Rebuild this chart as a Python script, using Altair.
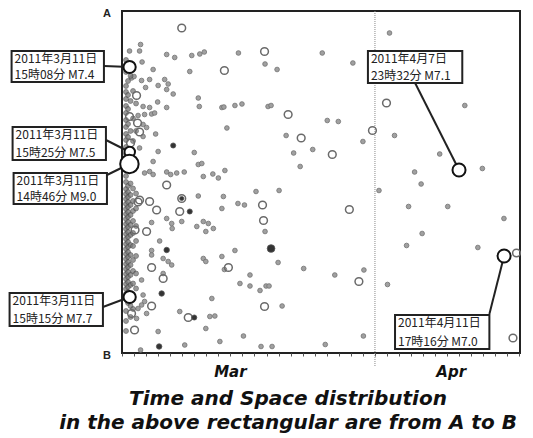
import altair as alt
import pandas as pd

# x: hours since 2011-03-11 00:00 ; y: distance along the A-B section (0 = A, 684 = B)
X_MAX = 793
Y_MAX = 684

small_pts = [
    (37, 67), (35, 80), (15, 80), (89, 87), (105, 93), (139, 89), (155, 86), (164, 82), (232, 84),
    (40, 102), (62, 117), (135, 121), (19, 134), (24, 131), (39, 139), (55, 137), (47, 153), (72, 149),
    (85, 137), (92, 146), (89, 157), (102, 166), (42, 191), (55, 193), (71, 182), (89, 193), (152, 174),
    (154, 191), (199, 193), (203, 192), (225, 189), (239, 186), (32, 209), (45, 207), (59, 206), (65, 204),
    (42, 227), (49, 233), (67, 246), (42, 251), (209, 234), (35, 274), (72, 281), (144, 283), (62, 301),
    (152, 307), (159, 305), (205, 319), (45, 324), (55, 321), (62, 327), (89, 322), (97, 327), (109, 324),
    (124, 322), (162, 331), (181, 326), (192, 334),
    (152, 370), (202, 371), (199, 395), (231, 385), (244, 388), (59, 423), (89, 415), (99, 425), (100, 435),
    (119, 421), (149, 431), (162, 421), (172, 425), (182, 435), (167, 441), (75, 460), (59, 479), (59, 488),
    (82, 495), (92, 501), (99, 508), (162, 495), (167, 501), (199, 491), (225, 479), (204, 517), (82, 525),
    (39, 538), (255, 528), (235, 545), (255, 550), (42, 568), (45, 581), (39, 588), (179, 575), (32, 595),
    (49, 605), (115, 601), (175, 611), (185, 610), (29, 615), (167, 635), (72, 641), (242, 650), (195, 661),
    (125, 668), (37, 678),
    (285, 106), (309, 117), (399, 84), (460, 104), (291, 191), (297, 189), (409, 219), (431, 221), (327, 249),
    (480, 261), (342, 284), (380, 277), (355, 311), (267, 361), (313, 359), (285, 441), (311, 503), (362, 515),
    (482, 518), (424, 528), (275, 559), (287, 550), (293, 550), (319, 590), (481, 650), (405, 667), (277, 671),
    (299, 671), (512, 359),
    (533, 44), (683, 189), (543, 249), (633, 286), (718, 315), (583, 322), (596, 346), (571, 391), (649, 391),
    (761, 415), (598, 445), (567, 469), (709, 473), (529, 547),
]

column_pts = [
    (8, 98), (8, 122), (8, 150), (8, 162), (8, 176), (8, 190), (8, 204), (8, 218), (8, 232), (8, 246),
    (8, 258), (8, 272), (8, 286), (8, 330), (8, 342), (8, 356), (8, 366), (8, 376), (8, 386), (8, 396),
    (8, 406), (8, 416), (8, 426), (8, 436), (8, 446), (8, 456), (8, 466), (8, 476), (8, 486), (8, 496),
    (8, 506), (8, 516), (8, 526), (8, 536), (8, 546), (8, 556), (8, 566), (8, 576), (8, 600), (8, 620), (8, 640),
    (12, 110), (12, 140), (12, 168), (12, 196), (12, 226), (12, 252), (12, 300), (12, 350), (12, 362), (12, 372),
    (12, 382), (12, 392), (12, 402), (12, 412), (12, 422), (12, 432), (12, 442), (12, 452), (12, 462), (12, 472),
    (12, 482), (12, 492), (12, 502), (12, 512), (12, 522), (12, 532), (12, 542), (12, 552), (12, 562), (12, 572),
    (12, 584),
    (17, 130), (17, 180), (17, 240), (17, 280), (17, 310), (17, 345), (17, 368), (17, 388), (17, 408), (17, 428),
    (17, 448), (17, 468), (17, 488), (17, 508), (17, 528), (17, 548), (17, 568), (17, 590), (17, 612),
    (22, 160), (22, 215), (22, 260), (22, 355), (22, 380), (22, 400), (22, 420), (22, 444), (22, 470), (22, 498),
    (22, 520), (22, 545), (22, 570), (22, 596),
    (28, 185), (28, 240), (28, 365), (28, 395), (28, 430), (28, 460), (28, 490), (28, 525), (28, 555),
]

dark_pts = [(102, 269), (135, 401), (89, 478), (79, 565), (144, 613), (74, 671), (119, 375), (297, 475)]
dark_size = [26, 26, 30, 30, 26, 30, 18, 60]

medium_pts = [
    (119, 34), (204, 119), (284, 81), (29, 169), (15, 211), (31, 224), (35, 242), (17, 264),
    (89, 348), (35, 378), (55, 381), (69, 398), (119, 375), (115, 401), (49, 441), (26, 438), (32, 382),
    (59, 513), (212, 513), (82, 535), (59, 590), (19, 605), (132, 613), (25, 638),
    (331, 207), (357, 254), (499, 239), (419, 287), (280, 388), (453, 397), (282, 419), (472, 541), (284, 591),
    (527, 184), (786, 484), (779, 654),
]

# labelled large quakes
label_line1 = ["2011年3月11日", "2011年3月11日", "2011年3月11日", "2011年3月11日", "2011年4月7日", "2011年4月11日"]
label_line2 = ["15時08分 M7.4", "15時25分 M7.5", "14時46分 M9.0", "15時15分 M7.7", "23時32分 M7.1", "17時16分 M7.0"]
quake_h = [15.13, 15.42, 14.77, 15.25, 671.5, 761.3]
quake_d = [112, 282, 306, 572, 318, 490]
quake_size = [150, 110, 340, 150, 170, 170]
box_h1 = [-220, -218, -216, -224, 490, 544]
box_h2 = [-36, -32, -30, -38, 678, 732]
box_d1 = [80, 232, 324, 564, 80, 608]
box_d2 = [142, 298, 386, 630, 144, 676]
link_h = [-36, -32, -30, -38, 584, 732]
link_d = [110, 258, 328, 592, 144, 606]

month_names = ["Mar", "Apr"]
month_h = [216, 656]
day_ticks = list(range(0, 793, 24))
apr1_h = 504

title_lines = ["Time and Space distribution", "in the above rectangular are from A to B"]

xs = alt.Scale(domain=[0, X_MAX], nice=False, zero=False)
ys = alt.Scale(domain=[0, Y_MAX], nice=False, zero=False, reverse=True)
xaxis = alt.Axis(values=day_ticks, labels=False, ticks=True, tickSize=3, tickColor="#555",
                 tickWidth=1, domain=False, grid=False, title=None)


def X(f):
    return alt.X(f, type="quantitative", scale=xs, axis=xaxis)


def Y(f):
    return alt.Y(f, type="quantitative", scale=ys, axis=None)


df_small = pd.DataFrame(small_pts, columns=["h", "d"])
df_col = pd.DataFrame(column_pts, columns=["h", "d"])
df_dark = pd.DataFrame(dark_pts, columns=["h", "d"])
df_dark["s"] = dark_size
df_med = pd.DataFrame(medium_pts, columns=["h", "d"])
df_q = pd.DataFrame({"h": quake_h, "d": quake_d, "s": quake_size, "lh": link_h, "ld": link_d,
                     "h1": box_h1, "h2": box_h2, "d1": box_d1, "d2": box_d2,
                     "t1": label_line1, "t2": label_line2})
df_q["tx"] = df_q["h1"] + 6
df_q["ty1"] = df_q["d1"] + 16
df_q["ty2"] = df_q["d2"] - 15
df_m = pd.DataFrame({"h": month_h, "name": month_names})
df_apr = pd.DataFrame({"h": [apr1_h], "d": [0], "d2": [712]})

apr_line = alt.Chart(df_apr).mark_rule(color="#888", strokeWidth=1, strokeDash=[1, 1], clip=False).encode(
    x=X("h"), y=Y("d"), y2="d2")

small = alt.Chart(df_small).mark_point(shape="circle", filled=True, fill="#a0a0a0", stroke="#707070",
                                       strokeWidth=0.8, size=22, opacity=1, clip=False).encode(x=X("h"), y=Y("d"))
column = alt.Chart(df_col).mark_point(shape="circle", filled=True, fill="#7a7a7a", stroke="#444",
                                      strokeWidth=0.8, size=24, opacity=0.75, clip=False).encode(x=X("h"), y=Y("d"))
medium = alt.Chart(df_med).mark_point(shape="circle", filled=False, stroke="#6a6a6a", strokeWidth=1.5,
                                      size=60, opacity=1, clip=False).encode(x=X("h"), y=Y("d"))
dark = alt.Chart(df_dark).mark_point(shape="circle", filled=True, fill="#333", stroke="#555",
                                     strokeWidth=0.8, opacity=1, clip=False).encode(
    x=X("h"), y=Y("d"), size=alt.Size("s:Q", scale=None, legend=None))

links = alt.Chart(df_q).mark_rule(color="#222", strokeWidth=2, clip=False).encode(
    x=X("lh"), y=Y("ld"), x2="h", y2="d")
big = alt.Chart(df_q).mark_point(shape="circle", filled=True, fill="white", stroke="#111", strokeWidth=2,
                                 opacity=1, clip=False).encode(
    x=X("h"), y=Y("d"), size=alt.Size("s:Q", scale=None, legend=None))
boxes = alt.Chart(df_q).mark_rect(fill="white", stroke="#222", strokeWidth=2, clip=False).encode(
    x=X("h1"), x2="h2", y=Y("d1"), y2="d2")
font_jp = "Noto Sans CJK JP"
txt1 = alt.Chart(df_q).mark_text(font=font_jp, fontSize=12, align="left", baseline="middle",
                                 color="#222", clip=False).encode(x=X("tx"), y=Y("ty1"), text="t1:N")
txt2 = alt.Chart(df_q).mark_text(font=font_jp, fontSize=12, align="left", baseline="middle",
                                 color="#222", clip=False).encode(x=X("tx"), y=Y("ty2"), text="t2:N")

months = alt.Chart(df_m).mark_text(font="DejaVu Sans", fontSize=15, fontWeight="bold", fontStyle="italic",
                                   align="center", baseline="alphabetic", color="#111", clip=False).encode(
    x=X("h"), y=alt.value(366), text="name:N")

ab = alt.Chart(pd.DataFrame({"t": ["A", "B"], "y": [3, 345]})).mark_text(
    font="Liberation Sans", fontSize=11, fontWeight="bold", align="center", baseline="middle",
    color="#222").encode(x=alt.value(-15), y=alt.Y("y:Q", scale=None, axis=None), text="t:N")

title_df = pd.DataFrame({"t": title_lines, "y": [394, 418]})
title = alt.Chart(title_df).mark_text(font="DejaVu Sans", fontSize=20, fontWeight="bold",
                                      fontStyle="italic", align="center", baseline="alphabetic",
                                      color="#111").encode(
    x=alt.value(166), y=alt.Y("y:Q", scale=None, axis=None), text="t:N")

chart = alt.layer(apr_line, small, column, medium, dark, links, big, boxes, txt1, txt2, months, ab, title).properties(
    width=398, height=342,
    autosize=alt.AutoSizeParams(type="none"),
    padding={"left": 114, "top": 3, "right": 5, "bottom": 80},
).resolve_scale(size="independent").configure_view(stroke="#222", strokeWidth=2)

chart.save("out.html", embed_options={"renderer": "svg", "actions": False})
